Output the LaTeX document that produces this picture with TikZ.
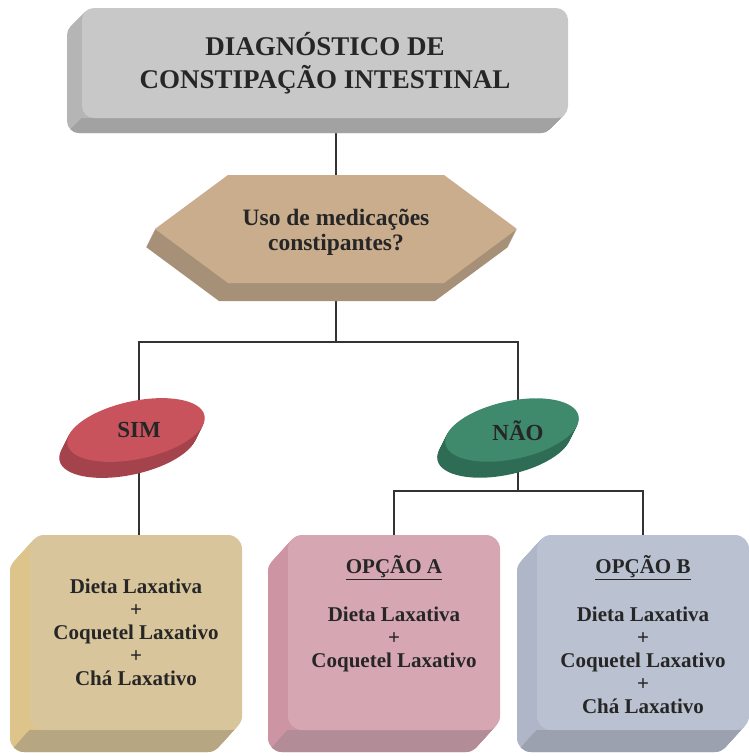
\documentclass[tikz,border=0pt]{standalone}
\usepackage{fontspec}
\setmainfont{Liberation Serif}
\usetikzlibrary{calc,positioning}

\definecolor{titlefront}{HTML}{C8C8C8}
\definecolor{titleleft}{HTML}{B5B5B5}
\definecolor{titlebottom}{HTML}{A2A2A2}
\definecolor{hexfront}{HTML}{C9AD8D}
\definecolor{hexside}{HTML}{A69178}
\definecolor{simfront}{HTML}{C9535D}
\definecolor{simside}{HTML}{A5434C}
\definecolor{naofront}{HTML}{3F8A6C}
\definecolor{naoside}{HTML}{2F6C55}
\definecolor{dietfront}{HTML}{D8C59C}
\definecolor{dietleft}{HTML}{DCC48A}
\definecolor{dietbottom}{HTML}{B6A682}
\definecolor{optAfront}{HTML}{D6A6B2}
\definecolor{optAleft}{HTML}{CD95A4}
\definecolor{optAbottom}{HTML}{B28C96}
\definecolor{optBfront}{HTML}{BAC1D0}
\definecolor{optBleft}{HTML}{AEB6C8}
\definecolor{optBbottom}{HTML}{9BA1AE}

\pgfdeclarelayer{links}
\pgfdeclarelayer{back}
\pgfsetlayers{links,back,main}

% sides of a raised box: #1,#2 top left, #3,#4 bottom right, #5,#6 depth,
% #7 left colour, #8 bottom colour, #9 corner radius
\newcommand{\boxsides}[9]{%
  \foreach \k in {1,...,20}
    \fill[#7, rounded corners=#9, shift={({\k*(#5)/20},{\k*(#6)/20})}] (#1,#2) rectangle (#3,#4);
  \begin{scope}
    \clip (#1,#4) -- ({#3+40},#4) -- ({#3+40},{#4+3*(#6)}) -- ({#1+3*(#5)},{#4+3*(#6)}) -- cycle;
    \foreach \k in {1,...,20}
      \fill[#8, rounded corners=#9, shift={({\k*(#5)/20},{\k*(#6)/20})}] (#1,#2) rectangle (#3,#4);
  \end{scope}}

\tikzset{
  link/.style={draw=black!80, line width=2.6pt},
  facebox/.style={rounded corners=14pt, minimum width=212pt, minimum height=195pt, inner sep=0pt},
  boxtext/.style={align=center, inner sep=0pt, text=black!85, font=\bfseries\fontsize{21}{23}\selectfont},
  lenstext/.style={inner sep=0pt, text=black!85, font=\bfseries\fontsize{23}{27}\selectfont},
}

\begin{document}
\begin{tikzpicture}[x=1pt, y=-1pt]
\useasboundingbox (0,0) rectangle (749,756);

% title
\node[boxtext, fill=titlefront, rounded corners=12pt, minimum width=486pt, minimum height=110pt,
      font=\bfseries\fontsize{27}{33}\selectfont] (diag) at (325,63) {DIAGNÓSTICO DE\\CONSTIPAÇÃO INTESTINAL};

% question
\node[boxtext, font=\bfseries\fontsize{23.5}{25}\selectfont] (question) at (336,232) {Uso de medicações\\constipantes?};

% answers
\node[lenstext] (sim) at (139,430) {SIM};
\node[lenstext] (nao) at (518,431) {NÃO};

% options
\node[facebox, fill=dietfront, boxtext] (dietbox) at (136,632.5) {Dieta Laxativa\\+\\Coquetel Laxativo\\+\\Chá Laxativo};
\node[facebox, fill=optAfront] (optA) at (394,632.5) {};
\node[boxtext, below=20pt of optA.north] (optAtext) {\underline{OPÇÃO A}\\[25pt]Dieta Laxativa\\+\\Coquetel Laxativo};
\node[facebox, fill=optBfront] (optB) at (643,632.5) {};
\node[boxtext, below=20pt of optB.north] (optBtext) {\underline{OPÇÃO B}\\[25pt]Dieta Laxativa\\+\\Coquetel Laxativo\\+\\Chá Laxativo};

\coordinate (split) at (336,342);
\coordinate (split2) at (518,491);

% 3d faces
\begin{pgfonlayer}{back}
  \boxsides{82}{8}{568}{118}{-15}{15}{titleleft}{titlebottom}{12pt}

  \foreach \d in {1,...,18}
    \fill[hexside, shift={(-0.5*\d,\d)}] (228,175) -- (444,175) -- (517,229) -- (444,283) -- (228,283) -- (155,229) -- cycle;
  \fill[hexfront] (228,175) -- (444,175) -- (517,229) -- (444,283) -- (228,283) -- (155,229) -- cycle;

  \foreach \d in {1,...,16}
    \fill[simside, shift={(136-0.5*\d,430+\d)}, rotate=12] (0,0) ellipse [x radius=70, y radius=29];
  \fill[simfront, shift={(136,430)}, rotate=12] (0,0) ellipse [x radius=70, y radius=29];

  \foreach \d in {1,...,16}
    \fill[naoside, shift={(512-0.5*\d,430+\d)}, rotate=12] (0,0) ellipse [x radius=68, y radius=29];
  \fill[naofront, shift={(512,430)}, rotate=12] (0,0) ellipse [x radius=68, y radius=29];

  \boxsides{30}{535}{242}{730}{-20}{22}{dietleft}{dietbottom}{14pt}
  \boxsides{288}{535}{500}{730}{-20}{22}{optAleft}{optAbottom}{14pt}
  \boxsides{537}{535}{749}{730}{-20}{22}{optBleft}{optBbottom}{14pt}
\end{pgfonlayer}

% connectors
\begin{pgfonlayer}{links}
  \draw[link] (question) -- (question |- diag);
  \draw[link] (question) -- (split);
  \draw[link] (sim) |- (split) -| (nao);
  \draw[link] (sim) -- (sim |- dietbox.north);
  \draw[link] (nao) -- (split2);
  \draw[link] (optA) |- (split2) -| (optB);
\end{pgfonlayer}
\end{tikzpicture}
\end{document}
